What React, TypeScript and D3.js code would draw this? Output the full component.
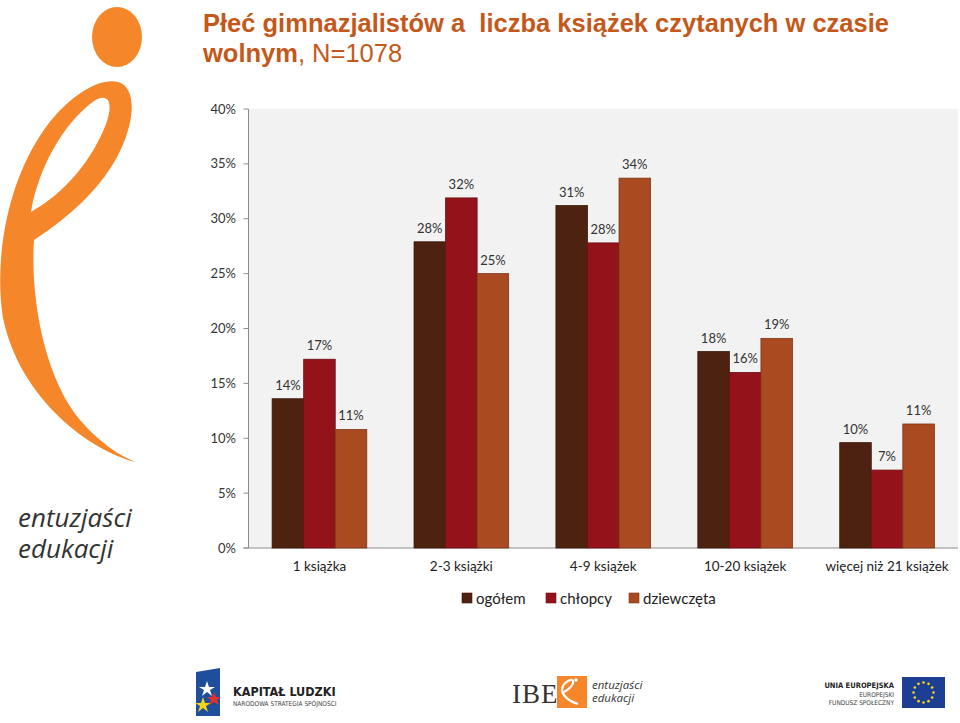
import React from "react";
import * as d3 from "d3";

const categories = ["1 książka", "2-3 książki", "4-9 książek", "10-20 książek", "więcej niż 21 książek"];
const seriesNames = ["ogółem", "chłopcy", "dziewczęta"];
const ogolem = [13.6, 27.9, 31.2, 17.9, 9.6];
const chlopcy = [17.2, 31.9, 27.8, 16.0, 7.1];
const dziewczeta = [10.8, 25.0, 33.7, 19.1, 11.3];
const labelsOgolem = ["14%", "28%", "31%", "18%", "10%"];
const labelsChlopcy = ["17%", "32%", "28%", "16%", "7%"];
const labelsDziewczeta = ["11%", "25%", "34%", "19%", "11%"];
const yTicks = [0, 5, 10, 15, 20, 25, 30, 35, 40];

const colors = ["#4e2210", "#94131b", "#a94a20"];
const strokes = ["#3a180a", "#6e0e14", "#7e3616"];

export default function App() {
  const W = 960, H = 723;
  const left = 248.5, right = 958, top = 109, bottom = 548;
  const y = d3.scaleLinear().domain([0, 40]).range([bottom, top]);
  const x0 = d3.scaleBand<string>().domain(categories).range([left, right]).paddingInner(0.333).paddingOuter(0.1665);
  const x1 = d3.scaleBand<string>().domain(seriesNames).range([0, x0.bandwidth()]);
  const series = [ogolem, chlopcy, dziewczeta];
  const labels = [labelsOgolem, labelsChlopcy, labelsDziewczeta];
  const font = "Lato, 'Open Sans', sans-serif";
  const orange = "#f5862a";
  const titleColor = "#c4581a";

  const legendX = [462, 546, 629];

  return (
    <svg width={W} height={H} style={{ position: "absolute", left: 0, top: 0, background: "#fff" }}>
      {/* Title */}
      <text x={203} y={32} fontFamily="'Liberation Sans', Arial, sans-serif" fontWeight="bold" fontSize={25.5} fill={titleColor} xmlSpace="preserve">
        Płeć gimnazjalistów a  liczba książek czytanych w czasie
      </text>
      <text x={203} y={62} fontFamily="'Liberation Sans', Arial, sans-serif" fontSize={25.5} fill={titleColor}>
        <tspan fontWeight="bold">wolnym</tspan>
        <tspan>, N=1078</tspan>
      </text>

      {/* Big logo */}
      <ellipse cx={117} cy={37} rx={25} ry={30} fill={orange} />
      <path
        fillRule="evenodd"
        fill={orange}
        d="M136,462 C92,452 20,400 3,318 C-6,262 6,182 46,127 C72,93 100,78 118,82 C134,86 136,112 124,142 C108,182 74,214 34,240 C30,302 46,380 80,420 C100,443 120,456 136,462 Z
           M31,212 C38,170 62,124 94,101 C108,92 114,102 106,124 C92,160 66,192 31,212 Z"
      />
      <text fontFamily="'Open Sans', sans-serif" fontStyle="italic" fontSize={26} fill="#333">
        <tspan x={18} y={527}>entuzjaści</tspan>
        <tspan x={18} y={558}>edukacji</tspan>
      </text>

      {/* Plot background */}
      <rect x={left} y={top} width={right - left} height={bottom - top} fill="#f2f2f2" />

      {/* Y axis */}
      <line x1={left} x2={left} y1={top} y2={bottom} stroke="#8c8c8c" strokeWidth={1} />
      {yTicks.map((t) => (
        <g key={t}>
          <line x1={left - 5} x2={left} y1={y(t)} y2={y(t)} stroke="#8c8c8c" />
          <text x={236} y={y(t) + 4.5} textAnchor="end" fontFamily={font} fontSize={13} fill="#333">
            {t}%
          </text>
        </g>
      ))}
      <line x1={left - 5} x2={right} y1={bottom} y2={bottom} stroke="#8c8c8c" />

      {/* Bars */}
      {categories.map((c, i) => (
        <g key={c} transform={`translate(${x0(c)},0)`}>
          {series.map((s, k) => (
            <g key={k}>
              <rect
                x={x1(seriesNames[k])}
                y={y(s[i])}
                width={x1.bandwidth()}
                height={bottom - y(s[i])}
                fill={colors[k]}
                stroke={strokes[k]}
                strokeWidth={0.8}
              />
              <text
                x={x1(seriesNames[k])! + x1.bandwidth() / 2}
                y={y(s[i]) - 9}
                textAnchor="middle"
                fontFamily={font}
                fontSize={13}
                fill="#333"
              >
                {labels[k][i]}
              </text>
            </g>
          ))}
          <text x={x0.bandwidth() / 2} y={571} textAnchor="middle" fontFamily={font} fontSize={13.5} fill="#222">
            {c}
          </text>
        </g>
      ))}

      {/* Legend */}
      {seriesNames.map((n, k) => (
        <g key={n}>
          <rect x={legendX[k]} y={593} width={10} height={10} fill={colors[k]} stroke={strokes[k]} strokeWidth={0.6} />
          <text x={legendX[k] + 14} y={604} fontFamily={font} fontSize={15} fill="#222">
            {n}
          </text>
        </g>
      ))}

      {/* Kapitał Ludzki logo */}
      <path d="M196,672 L220,668 L220,716 L196,716 Z" fill="#1f4e9a" />
      <polygon points="205,687 207,681 209,687 215,687 210,690 212,696 207,692 202,696 204,690 199,687" fill="#fff" />
      <polygon points="201,703 203,697 205,703 211,703 206,706 208,712 203,708 198,712 200,706 195,703" fill="#f7d21a" />
      <polygon points="212,697 214,692 216,697 221,697 217,700 219,705 214,702 209,705 211,700 207,697" fill="#e03030" />
      <text x={233} y={696} fontFamily="'DejaVu Sans Condensed', 'Liberation Sans Narrow', sans-serif" fontWeight="bold" fontSize={12.5} fill="#222">KAPITAŁ LUDZKI</text>
      <text x={233} y={706} fontFamily="'Liberation Sans Narrow', 'DejaVu Sans Condensed', sans-serif" fontSize={6.5} fill="#444">NARODOWA STRATEGIA SPÓJNOŚCI</text>

      {/* IBE logo */}
      <text x={512} y={703} fontFamily="'Liberation Serif', serif" fontSize={27} fill="#333" letterSpacing={1}>IBE</text>
      <rect x={557} y={676} width={30} height={32} fill={orange} />
      <path d="M578,704 C565,700 560,692 563,686 C566,681 572,678 573,681 C574,685 568,690 564,692" fill="none" stroke="#fff" strokeWidth={2.2} />
      <circle cx={576} cy={680} r={1.8} fill="#fff" />
      <text fontFamily="'Open Sans', sans-serif" fontStyle="italic" fontSize={11.5} fill="#333">
        <tspan x={592} y={689}>entuzjaści</tspan>
        <tspan x={592} y={702}>edukacji</tspan>
      </text>

      {/* EU logo */}
      <text x={894} y={688} textAnchor="end" fontFamily="'Liberation Sans Narrow', 'DejaVu Sans Condensed', sans-serif" fontWeight="bold" fontSize={7.5} fill="#222">UNIA EUROPEJSKA</text>
      <text x={894} y={697} textAnchor="end" fontFamily="'Liberation Sans Narrow', 'DejaVu Sans Condensed', sans-serif" fontSize={6.5} fill="#444">EUROPEJSKI</text>
      <text x={894} y={705} textAnchor="end" fontFamily="'Liberation Sans Narrow', 'DejaVu Sans Condensed', sans-serif" fontSize={6.5} fill="#444">FUNDUSZ SPOŁECZNY</text>
      <rect x={902} y={677} width={43} height={31} fill="#1c3f94" />
      {d3.range(12).map((i) => {
        const a = (i / 12) * Math.PI * 2;
        return <circle key={i} cx={923.5 + Math.cos(a) * 10} cy={692.5 + Math.sin(a) * 10} r={1.3} fill="#ffd617" />;
      })}
    </svg>
  );
}
